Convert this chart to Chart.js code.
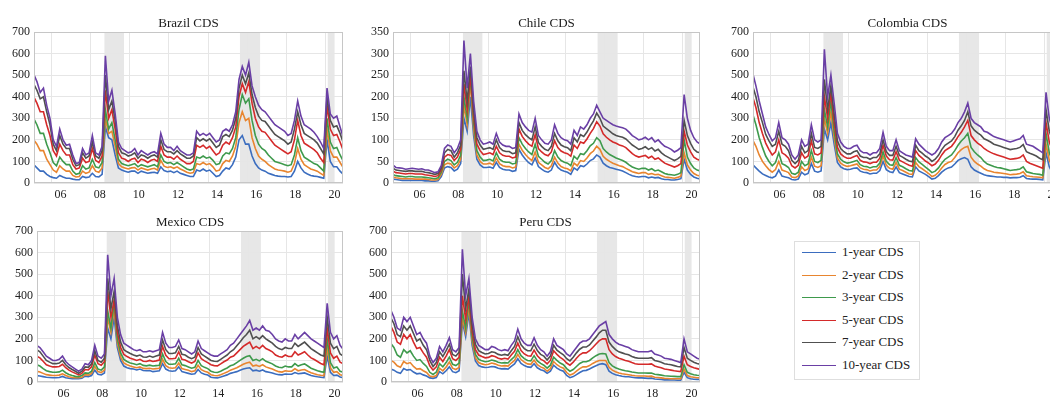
<!DOCTYPE html>
<html lang="en">
<head>
<meta charset="UTF-8">
<title>CDS term structure</title>
<script src="https://cdn.jsdelivr.net/npm/chart.js"></script>
<style>
  html, body { margin: 0; padding: 0; background: #fff; }
  body { width: 1050px; height: 397px; overflow: hidden; position: relative; font-family: "Liberation Serif", serif; }
  .panel { position: absolute; }
  .legend { position: absolute; left: 794px; top: 241px; width: 126px; height: 139px; box-sizing: border-box; border: 1px solid #dedede; }
  .legend .item { position: absolute; left: 47px; height: 16px; line-height: 16px; font-size: 13px; color: #222; white-space: nowrap; }
  .legend .swatch { position: absolute; left: 7px; width: 34px; height: 0; border-top: 1px solid; }
</style>
</head>
<body>
<div class="legend" id="legend"></div>
<script>
// series names and colours
const seriesNames = ['1-year CDS', '2-year CDS', '3-year CDS', '5-year CDS', '7-year CDS', '10-year CDS'];
const seriesColors = ['#3b6dbf', '#e8852f', '#3e9a4c', '#d42a2a', '#505050', '#6a3fa5'];

// x axis ticks
const yearTicks = [2006, 2008, 2010, 2012, 2014, 2016, 2018, 2020];
const yearLabels = ['06', '08', '10', '12', '14', '16', '18', '20'];

// shaded periods
const shadeStart = [2008.7, 2015.63, 2020.12];
const shadeEnd = [2009.7, 2016.66, 2020.47];

// one point every two months, Feb 2005 .. Dec 2020
const dates = [];
for (let y = 2005; y <= 2020; y++) {
    for (let m = 1; m < 12; m += 2) dates.push(y + m / 12);
}

// Brazil
const brazil1y = [85,70,55,55,40,30, 25,22,35,28,22,22, 18,15,15,30,25,28, 45,30,28,40,260,210, 200,130,70,60,55,50, 55,55,45,55,50,45, 48,50,45,75,58,52, 55,48,55,45,40,35, 30,30,60,55,65,55, 60,45,30,35,55,70, 65,85,120,200,220,180, 180,125,90,70,60,55, 45,40,35,32,30,30, 28,30,55,100,70,50, 42,35,32,30,26,22, 200,100,75,75,55,40];
const brazil2y = [200,180,150,150,110,85, 60,50,80,65,55,55, 35,28,30,55,45,50, 80,55,50,70,300,230, 240,170,90,75,70,65, 70,72,60,70,65,60, 65,68,60,105,78,72, 75,68,75,65,58,50, 45,48,90,85,95,85, 90,75,55,60,90,105, 100,125,170,280,330,290, 300,210,160,125,110,100, 85,75,65,60,58,55, 50,55,90,160,110,85, 75,65,60,55,45,35, 250,150,120,120,95,70];
const brazil3y = [300,270,230,230,180,140, 95,80,120,100,85,85, 55,40,45,80,65,70, 110,75,70,95,340,250, 280,200,110,90,85,80, 85,90,75,85,80,75, 80,85,75,130,100,92, 95,85,95,85,75,65, 60,65,120,115,125,115, 120,105,85,90,125,140, 135,160,210,340,410,370, 390,290,220,180,160,150, 130,115,100,95,90,85, 80,85,130,210,150,120, 110,100,90,85,70,55, 300,190,160,165,130,100];
const brazil5y = [400,370,330,330,270,220, 150,125,180,150,130,130, 85,65,70,115,95,100, 160,105,95,125,430,300, 340,250,140,115,110,100, 110,115,95,110,105,95, 105,110,100,170,130,120, 120,110,125,110,100,90, 90,100,175,165,175,160, 170,150,130,140,175,190, 180,210,260,400,460,420, 470,370,300,260,240,235, 215,195,175,165,155,145, 135,145,200,290,220,185, 175,165,155,140,115,95, 360,250,220,225,190,150];
const brazil7y = [460,430,390,400,330,270, 180,150,220,180,160,160, 110,80,85,140,115,125, 190,125,115,150,500,340, 380,290,170,140,135,125, 130,140,115,130,125,115, 125,130,120,200,155,145, 145,135,150,135,125,115, 115,125,210,195,205,195, 205,185,165,175,215,225, 215,245,300,440,500,460, 510,410,350,310,290,285, 265,245,225,215,205,195, 180,190,250,330,270,230, 220,210,200,185,160,135, 400,290,260,265,230,185];
const brazil10y = [505,470,420,440,360,300, 200,170,250,200,175,180, 130,90,95,160,130,140, 220,140,130,170,590,380, 430,320,190,160,150,140, 145,160,130,150,140,130, 140,145,135,230,180,165, 165,150,170,150,140,130, 130,140,240,220,230,220, 230,210,190,200,240,250, 240,270,330,480,540,500, 560,450,400,360,340,330, 310,290,270,260,250,240, 220,230,290,380,310,270, 260,250,235,215,190,160, 440,320,300,310,260,210];

// Chile
const chile1y = [9,8,7,6,6,6, 6,6,6,6,5,5, 4,4,5,15,35,38, 36,28,32,45,150,120, 200,110,55,42,36,36, 37,34,48,36,32,30, 30,27,29,78,65,55, 47,42,58,38,32,27, 25,30,48,36,30,27, 25,20,35,30,40,38, 44,52,56,65,60,46, 40,36,34,32,30,28, 24,20,17,15,14,15, 15,12,14,12,13,10, 8,8,7,7,8,10, 55,30,20,14,11,9];
const chile2y = [14,12,11,10,10,10, 10,9,9,9,9,8, 7,7,8,20,42,46, 44,35,40,55,180,135, 235,125,65,50,44,44, 46,42,58,45,40,38, 38,35,37,90,76,66, 58,52,72,48,42,36, 33,40,60,46,38,35, 33,28,46,40,52,50, 58,68,74,85,78,62, 55,50,46,43,40,38, 34,30,26,24,22,24, 24,20,22,19,20,17, 14,13,12,11,13,16, 70,42,30,22,18,16];
const chile3y = [20,17,16,15,14,15, 15,14,14,14,13,12, 11,10,12,25,50,55, 52,42,48,65,200,150, 250,140,75,60,52,53, 55,51,70,55,50,48, 48,44,46,105,90,80, 72,66,90,62,55,48, 44,52,75,60,52,48, 46,40,62,55,68,66, 75,86,92,105,98,80, 72,66,62,58,55,52, 48,42,37,34,32,34, 34,30,33,28,30,26, 22,20,19,18,20,24, 100,60,45,35,30,28];
const chile5y = [28,24,23,22,21,22, 22,21,21,21,19,18, 17,15,17,30,60,66, 64,52,60,78,230,170, 250,155,90,75,66,68, 70,66,85,70,64,62, 62,58,60,125,108,98, 90,85,112,80,72,66, 63,72,98,82,74,70, 68,62,88,80,95,92, 102,115,126,142,132,114, 106,100,95,92,88,86, 82,75,68,63,60,62, 64,58,62,55,58,52, 46,43,40,37,40,45, 120,88,72,60,55,52];
const chile7y = [35,30,29,28,27,28, 28,27,27,27,25,24, 22,20,22,35,70,78, 75,60,70,88,260,190, 270,170,105,88,78,80, 82,78,100,82,75,73, 73,68,70,140,122,112, 105,100,130,94,85,78, 75,85,115,98,88,84, 82,75,105,95,112,108, 118,132,144,162,150,132, 126,120,114,110,108,106, 102,95,88,83,78,80, 84,78,82,74,78,70, 64,60,56,52,56,62, 145,110,92,78,72,70];
const chile10y = [42,36,35,34,32,33, 34,33,32,33,30,30, 27,24,26,40,80,88, 85,70,80,100,330,220, 300,190,120,100,90,92, 95,90,115,95,88,85, 85,80,82,160,140,130, 122,118,150,110,100,92, 90,100,135,115,105,100, 98,90,122,110,130,125, 135,150,160,180,165,150, 145,140,135,132,130,128, 125,118,110,105,100,102, 106,100,105,95,100,92, 85,82,78,72,76,82, 205,150,122,105,95,90];

// Colombia
const colombia1y = [85,70,55,42,35,28, 24,32,60,32,28,24, 16,14,18,50,38,44, 90,55,50,56,250,200, 280,180,95,75,66,62, 64,68,70,55,50,48, 42,45,45,58,100,62, 52,48,75,48,42,36, 30,28,75,56,48,40, 30,18,22,34,50,62, 70,74,88,105,112,118, 110,75,60,52,45,38, 34,32,30,28,28,26, 26,24,25,25,27,34, 21,19,18,18,17,15, 140,75,45,35,28,24];
const colombia2y = [200,170,130,100,80,62, 50,62,100,60,55,48, 28,25,32,75,58,65, 120,78,72,80,300,230, 330,210,115,92,82,77, 80,84,88,70,64,62, 56,60,60,76,125,82, 68,64,96,64,58,50, 42,40,95,76,66,55, 44,30,36,50,70,86, 95,100,118,140,155,165, 170,120,100,88,78,66, 58,54,50,48,46,44, 42,38,40,41,44,52, 34,31,29,28,27,24, 180,105,70,55,44,38];
const colombia3y = [320,270,210,165,125,100, 80,95,140,90,82,72, 45,40,50,100,80,88, 150,100,95,105,340,260, 380,240,135,110,98,92, 95,100,105,85,78,76, 70,75,75,92,145,100, 85,82,118,82,75,66, 58,55,118,98,86,74, 62,48,55,70,92,110, 120,130,150,175,195,210, 230,165,145,130,118,100, 88,82,76,72,70,66, 62,58,60,62,65,75, 52,48,44,42,40,36, 230,140,100,80,65,58];
const colombia5y = [400,350,280,230,185,155, 130,145,200,140,130,115, 80,70,82,140,115,125, 195,135,130,140,400,300, 420,280,165,135,122,115, 115,122,128,105,98,96, 90,96,96,115,175,125, 108,106,145,106,98,90, 82,78,150,128,115,102, 92,80,88,105,130,150, 160,170,190,215,235,260, 290,220,200,185,175,160, 150,142,135,130,125,120, 115,110,112,114,118,130, 100,92,86,80,74,68, 280,190,150,130,115,108];
const colombia7y = [450,400,330,280,225,195, 170,180,240,180,170,150, 105,90,105,170,140,150, 230,165,160,170,480,340, 450,320,195,160,145,135, 135,145,150,125,118,118, 110,118,118,135,200,145, 128,128,170,128,120,110, 102,98,175,150,138,125, 115,100,110,128,155,175, 185,195,215,245,265,290, 330,265,245,232,222,205, 198,190,180,175,170,165, 160,155,158,160,165,178, 145,138,132,125,115,108, 340,240,200,180,165,155];
const colombia10y = [510,450,380,320,260,225, 195,210,280,210,200,180, 130,110,130,200,170,180, 270,200,190,200,620,400, 500,370,230,190,170,160, 160,170,175,150,140,140, 130,140,140,160,235,170, 150,150,200,150,140,130, 125,120,205,180,165,150, 140,130,140,160,190,210, 220,230,250,280,300,330, 370,300,280,270,260,240, 235,225,215,210,205,200, 195,190,195,200,205,220, 180,175,170,160,150,140, 420,300,250,230,210,200];

// Mexico
const mexico1y = [30,28,25,22,21,20, 20,21,26,20,17,15, 15,15,17,27,25,30, 55,36,33,42,250,200, 300,160,100,74,66,62, 60,56,60,53,52,53, 48,50,52,85,60,52, 50,52,70,48,44,40, 36,38,58,42,36,32, 22,20,19,23,28,33, 40,44,48,54,60,64, 66,52,55,50,56,48, 45,42,37,34,33,37, 36,36,44,38,40,42, 36,30,27,24,22,20, 120,45,30,32,23,20];
const mexico2y = [50,46,40,34,32,30, 30,32,38,30,24,21, 20,20,22,34,32,40, 72,48,44,55,300,230, 340,180,115,88,80,74, 70,66,70,63,62,64, 60,62,64,105,76,66, 64,66,88,62,58,54, 48,52,78,57,50,45, 34,30,29,34,40,46, 55,60,66,74,82,88, 92,74,78,72,80,70, 65,60,53,48,46,52, 50,50,62,52,56,58, 50,43,38,34,31,30, 160,65,45,48,34,30];
const mexico3y = [80,74,62,52,48,45, 45,47,55,43,35,30, 26,25,30,42,40,50, 90,60,55,70,330,250, 370,200,135,105,95,88, 85,80,85,77,75,78, 74,76,78,130,95,82, 82,84,110,80,76,70, 64,68,100,76,68,62, 50,45,44,50,58,65, 75,80,90,100,110,118, 122,100,105,98,108,96, 90,84,74,68,66,74, 70,70,85,74,80,84, 74,64,58,52,48,45, 200,90,65,70,50,45];
const mexico5y = [120,112,96,80,74,70, 70,72,82,66,55,47, 40,33,40,58,56,70, 125,85,78,95,420,300, 380,230,160,128,118,110, 105,100,105,96,95,100, 95,98,102,165,124,108, 108,110,140,105,102,94, 88,95,135,108,98,90, 80,76,75,84,94,102, 115,120,135,150,165,175, 185,155,165,155,170,155, 148,140,125,118,115,125, 118,118,140,125,132,140, 125,112,104,95,86,80, 250,135,110,120,92,85];
const mexico7y = [150,140,120,100,92,85, 85,88,100,80,67,58, 50,40,50,70,68,84, 145,100,92,110,480,340, 420,260,185,150,140,132, 125,120,125,116,115,120, 115,120,125,195,150,132, 132,135,165,128,125,115, 108,115,160,130,120,110, 100,96,95,105,115,125, 140,150,168,185,205,220, 240,200,210,200,215,200, 190,180,165,155,150,160, 155,155,180,165,175,185, 170,155,145,135,125,120, 300,180,155,165,130,120];
const mexico10y = [170,160,140,120,110,100, 100,105,120,95,80,70, 60,50,60,85,80,100, 170,120,110,130,590,400, 480,300,220,180,170,160, 150,145,150,140,140,145, 140,145,150,230,180,160, 160,165,195,155,150,140, 130,140,190,155,145,135, 125,120,120,130,140,150, 170,180,200,220,240,260, 285,240,250,240,260,240, 235,220,200,190,185,200, 190,190,220,200,215,230, 215,200,190,180,170,160, 365,230,200,215,170,150];

// Peru
const peru1y = [60,55,45,40,62,55, 58,46,38,40,33,28, 19,17,21,48,38,52, 70,48,43,52,280,210, 320,170,98,76,70,67, 68,72,70,64,61,62, 60,72,84,108,86,76, 70,68,85,66,57,52, 40,50,78,64,56,50, 30,20,25,34,44,52, 54,60,68,75,82,85, 80,50,40,34,30,27, 25,24,22,20,19,19, 18,17,18,14,13,12, 10,10,9,9,8,8, 45,20,15,13,12,12];
const peru2y = [100,92,75,68,95,85, 90,72,60,62,52,44, 28,24,30,64,52,70, 92,64,58,68,300,230, 350,190,112,90,84,80, 82,88,84,78,74,76, 74,88,100,128,104,92, 84,82,102,80,70,64, 50,62,95,80,70,64, 44,32,38,50,62,70, 70,76,86,94,100,100, 100,68,55,48,42,38, 36,34,31,29,28,28, 28,26,27,22,21,19, 17,16,15,15,15,15, 60,30,24,22,20,20];
const peru3y = [180,160,125,115,150,135, 145,120,100,104,86,72, 45,35,46,85,70,90, 115,82,76,88,330,250, 380,210,128,105,98,94, 96,102,98,92,88,90, 88,104,118,150,122,108, 100,98,122,98,86,78, 64,78,115,100,88,80, 62,50,58,72,86,94, 94,100,112,122,130,132, 130,90,75,66,60,56, 52,50,46,44,42,42, 42,41,42,36,34,32, 29,28,27,26,25,25, 80,45,38,34,31,30];
const peru5y = [260,230,185,175,220,200, 220,185,155,160,135,115, 75,55,70,115,95,120, 150,108,100,115,400,290, 400,235,150,125,118,112, 114,122,118,110,106,110, 106,125,142,180,146,130, 122,120,148,122,106,98, 84,100,145,128,114,104, 88,78,92,110,126,135, 135,145,160,176,192,200, 200,150,130,118,110,105, 100,96,90,85,82,82, 82,82,84,74,70,66, 60,58,55,52,50,48, 120,80,72,66,62,58];
const peru7y = [300,270,220,210,260,240, 260,225,190,200,170,150, 100,72,90,140,118,145, 175,128,120,138,500,340, 430,265,175,145,137,130, 132,140,137,128,124,128, 124,145,165,210,172,155, 145,145,175,146,128,120, 102,120,170,148,136,126, 108,98,115,135,152,162, 162,172,190,208,228,240, 240,185,165,150,140,135, 130,126,118,113,110,110, 110,110,113,100,96,92, 85,82,80,76,72,70, 160,110,100,92,86,82];
const peru10y = [335,300,250,240,300,280, 300,260,220,230,200,180, 120,90,110,165,140,170, 205,150,140,160,615,400, 480,300,200,170,160,150, 150,165,160,150,145,150, 145,170,190,245,200,180, 170,170,205,170,150,140, 120,140,200,170,160,150, 130,120,140,160,180,190, 190,200,220,240,260,270, 280,220,200,185,175,170, 165,160,150,145,140,140, 140,140,145,130,125,120, 110,108,105,100,95,90, 200,140,130,120,110,105];

Chart.defaults.font.family = '"Liberation Serif", "Times New Roman", serif';
Chart.defaults.color = '#222';

const Y_AXIS_W = 34;
const X_AXIS_H = 22;
const TITLE_H = 20;

// shading behind everything, frame on top
const framePlugin = {
    id: 'frame',
    beforeDraw(chart) {
        const { ctx, chartArea: a, scales: { x } } = chart;
        ctx.save();
        ctx.fillStyle = '#e7e7e7';
        for (let i = 0; i < shadeStart.length; i++) {
            const x0 = Math.max(x.getPixelForValue(shadeStart[i]), a.left);
            const x1 = Math.min(x.getPixelForValue(shadeEnd[i]), a.right);
            if (x1 > x0) ctx.fillRect(x0, a.top, x1 - x0, a.bottom - a.top);
        }
        ctx.restore();
    },
    afterDraw(chart) {
        const { ctx, chartArea: a } = chart;
        ctx.save();
        ctx.strokeStyle = '#c6c6c6';
        ctx.lineWidth = 1;
        ctx.strokeRect(Math.round(a.left) + 0.5, Math.round(a.top) + 0.5,
            Math.round(a.right - a.left) - 1, Math.round(a.bottom - a.top) - 1);
        ctx.restore();
    }
};

function makePanel(p) {
    const box = document.createElement('div');
    box.className = 'panel';
    const left = p.plotLeft - Y_AXIS_W;
    const top = p.plotTop - TITLE_H;
    const w = p.plotRight - left;
    const h = (p.plotBottom - p.plotTop) + TITLE_H + X_AXIS_H;
    box.style.left = left + 'px';
    box.style.top = top + 'px';
    box.style.width = w + 'px';
    box.style.height = h + 'px';
    const canvas = document.createElement('canvas');
    canvas.width = w;
    canvas.height = h;
    box.appendChild(canvas);
    document.body.appendChild(box);

    const datasets = p.series.map((s, i) => ({
        label: seriesNames[i],
        data: s.map((v, k) => ({ x: dates[k], y: v })),
        borderColor: seriesColors[i],
        backgroundColor: seriesColors[i],
        borderWidth: 1.6,
        pointRadius: 0,
        tension: 0,
        order: seriesNames.length - i
    }));

    new Chart(canvas, {
        type: 'line',
        data: { datasets },
        options: {
            responsive: false,
            animation: false,
            events: [],
            layout: { padding: 0 },
            plugins: {
                legend: { display: false },
                tooltip: { enabled: false },
                title: {
                    display: true,
                    text: p.title,
                    fullSize: false,
                    color: '#1a1a1a',
                    font: { size: 13, weight: 'normal', lineHeight: 1 },
                    padding: { top: 5, bottom: 2 }
                }
            },
            scales: {
                x: {
                    type: 'linear',
                    min: 2005.1,
                    max: 2020.9,
                    afterBuildTicks: axis => { axis.ticks = yearTicks.map(v => ({ value: v })); },
                    afterFit: s => { s.height = X_AXIS_H; },
                    grid: { color: '#e6e6e6', drawTicks: false },
                    border: { display: false },
                    ticks: {
                        autoSkip: false,
                        maxRotation: 0,
                        padding: 5,
                        labelOffset: 9,
                        font: { size: 12 },
                        color: '#222',
                        callback: v => yearLabels[yearTicks.indexOf(v)]
                    }
                },
                y: {
                    min: 0,
                    max: p.yMax,
                    afterFit: s => { s.width = Y_AXIS_W; },
                    grid: { color: '#e6e6e6', drawTicks: false },
                    border: { display: false },
                    ticks: { stepSize: p.yStep, padding: 4, font: { size: 12 }, color: '#222' }
                }
            }
        },
        plugins: [framePlugin]
    });
}

makePanel({ title: 'Brazil CDS', series: [brazil1y, brazil2y, brazil3y, brazil5y, brazil7y, brazil10y],
    yMax: 700, yStep: 100, plotLeft: 34, plotTop: 32, plotRight: 343, plotBottom: 183 });
makePanel({ title: 'Chile CDS', series: [chile1y, chile2y, chile3y, chile5y, chile7y, chile10y],
    yMax: 350, yStep: 50, plotLeft: 393, plotTop: 32, plotRight: 700, plotBottom: 183 });
makePanel({ title: 'Colombia CDS', series: [colombia1y, colombia2y, colombia3y, colombia5y, colombia7y, colombia10y],
    yMax: 700, yStep: 100, plotLeft: 753, plotTop: 32, plotRight: 1062, plotBottom: 183 });
makePanel({ title: 'Mexico CDS', series: [mexico1y, mexico2y, mexico3y, mexico5y, mexico7y, mexico10y],
    yMax: 700, yStep: 100, plotLeft: 37, plotTop: 231, plotRight: 343, plotBottom: 382 });
makePanel({ title: 'Peru CDS', series: [peru1y, peru2y, peru3y, peru5y, peru7y, peru10y],
    yMax: 700, yStep: 100, plotLeft: 391, plotTop: 231, plotRight: 700, plotBottom: 382 });

// legend
const legend = document.getElementById('legend');
seriesNames.forEach((name, i) => {
    const cy = 11 + i * 22.6;
    const sw = document.createElement('div');
    sw.className = 'swatch';
    sw.style.top = Math.round(cy - 1) + 'px';
    sw.style.borderTopColor = seriesColors[i];
    legend.appendChild(sw);
    const item = document.createElement('div');
    item.className = 'item';
    item.style.top = Math.round(cy - 9) + 'px';
    item.textContent = name;
    legend.appendChild(item);
});
</script>
</body>
</html>
